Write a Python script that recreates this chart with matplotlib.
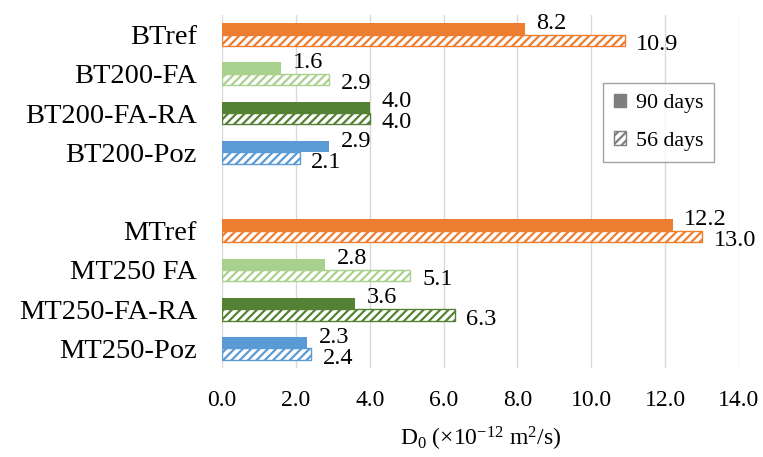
import numpy as np
import matplotlib
matplotlib.use('Agg')
import matplotlib.pyplot as plt
from matplotlib.patches import Patch

plt.rcParams['font.family'] = ['Liberation Serif', 'DejaVu Serif']
plt.rcParams['mathtext.default'] = 'regular'
plt.rcParams['hatch.linewidth'] = 1.6

# data
categories = ['BTref', 'BT200-FA', 'BT200-FA-RA', 'BT200-Poz',
              'MTref', 'MT250 FA', 'MT250-FA-RA', 'MT250-Poz']
d90 = [8.2, 1.6, 4.0, 2.9, 12.2, 2.8, 3.6, 2.3]
d56 = [10.9, 2.9, 4.0, 2.1, 13.0, 5.1, 6.3, 2.4]
slots = [0, 1, 2, 3, 5, 6, 7, 8]   # leeg slot tussen BT en MT groep
colors = ['#ED7D31', '#A9D18E', '#548235', '#5B9BD5'] * 2

W, H = 763, 457
fig = plt.figure(figsize=(W / 100, H / 100), dpi=100)
ax = fig.add_axes([222 / W, 1 - 368 / H, 517 / W, 353 / H])

bh = 0.29
y = np.array(slots, dtype=float)
ax.barh(y - bh / 2, d90, height=bh, color=colors, linewidth=0, zorder=3)
ax.barh(y + bh / 2, d56, height=bh, color='white', edgecolor=colors,
        hatch='////', linewidth=1, zorder=3)

# waarde labels
for yy, v in zip(y - bh / 2, d90):
    ax.annotate(f'{v:.1f}', xy=(v, yy), xytext=(8.5, 4), textcoords='offset points',
                va='center', ha='left', fontsize=17.5)
for yy, v in zip(y + bh / 2, d56):
    ax.annotate(f'{v:.1f}', xy=(v, yy), xytext=(8.5, -3), textcoords='offset points',
                va='center', ha='left', fontsize=17.5)

ax.set_xlim(0, 14)
ax.set_ylim(8.5, -0.5)
ax.set_xticks(np.arange(0, 14.1, 2))
ax.set_xticklabels([f'{t:.1f}' for t in np.arange(0, 14.1, 2)])
ax.set_yticks(slots)
ax.set_yticklabels(categories)
ax.tick_params(axis='y', length=0, pad=18, labelsize=20.5)
ax.tick_params(axis='x', length=0, pad=16, labelsize=17)
ax.grid(axis='x', color='#d9d9d9', linewidth=1, zorder=0)
ax.set_axisbelow(True)
for s in ax.spines.values():
    s.set_visible(False)

ax.set_xlabel(r'D$_{0}$ (×10$^{-12}$ m$^{2}$/s)', fontsize=17, labelpad=10)

handles = [Patch(facecolor='#7f7f7f', edgecolor='#7f7f7f'),
           Patch(facecolor='white', edgecolor='#7f7f7f', hatch='////')]
leg = ax.legend(handles, ['90 days', '56 days'], loc='upper left',
                bbox_to_anchor=(0.737, 0.807), fontsize=15.8, frameon=True,
                fancybox=False, edgecolor='#8c8c8c', handlelength=0.55,
                handleheight=0.55, handletextpad=0.45, labelspacing=0.82,
                borderpad=0.5, borderaxespad=0)
leg.get_frame().set_linewidth(1)

fig.savefig('out.png', dpi=100)
